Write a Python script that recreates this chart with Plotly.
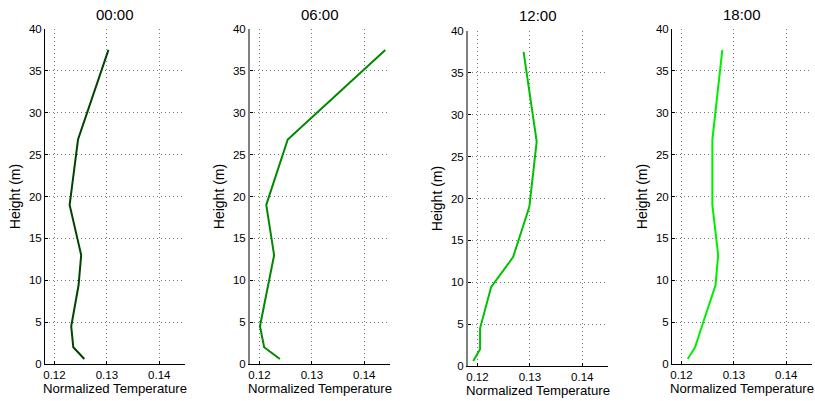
import plotly.graph_objects as go

heights = [0.6, 2.0, 4.5, 9.4, 13.0, 19.0, 26.8, 37.5]
titles = ["00:00", "06:00", "12:00", "18:00"]
temp_00 = [0.1257, 0.1236, 0.1232, 0.1246, 0.1251, 0.1229, 0.1245, 0.1303]
temp_06 = [0.1239, 0.1209, 0.1201, 0.1216, 0.1228, 0.1213, 0.1254, 0.1440]
temp_12 = [0.1192, 0.1205, 0.1205, 0.1226, 0.1268, 0.1299, 0.1313, 0.1288]
temp_18 = [0.1212, 0.1226, 0.1239, 0.1265, 0.1270, 0.1259, 0.1259, 0.1278]
series = [temp_00, temp_06, temp_12, temp_18]
colors = ["#004400", "#008800", "#00c000", "#00ee00"]
x_ticks = [0.12, 0.13, 0.14]
y_ticks = [0, 5, 10, 15, 20, 25, 30, 35, 40]

W, H = 815, 401
xdom_px = [(45, 185), (250, 390), (468, 608), (672, 812)]
ydom_px = [(29, 364), (29, 364), (31, 366), (29, 364)]
left_spine = [("black", 1), ("#808080", 2), ("#808080", 2), ("black", 1)]

fig = go.Figure()
layout = dict(
    width=W, height=H, margin=dict(l=0, r=0, t=0, b=0, autoexpand=False),
    plot_bgcolor="white", paper_bgcolor="white",
    font=dict(family="Liberation Sans, Arial, sans-serif", size=11, color="black"),
    showlegend=False,
)
annotations = []
for i in range(4):
    n = "" if i == 0 else str(i + 1)
    fig.add_trace(go.Scatter(
        x=series[i], y=heights, mode="lines",
        line=dict(color=colors[i], width=2),
        xaxis="x" + n, yaxis="y" + n,
    ))
    x0, x1 = xdom_px[i]
    y0, y1 = ydom_px[i]
    layout["xaxis" + n] = dict(
        domain=[x0 / W, x1 / W], range=[0.1182, 0.1449], anchor="y" + n,
        tickvals=x_ticks, ticktext=[f"{v:.2f}" for v in x_ticks],
        ticks="inside", ticklen=3, tickcolor="black",
        showline=True, linecolor="black", linewidth=1, mirror=False,
        showgrid=True, gridcolor="#777777", griddash="1px,3px", gridwidth=1,
        zeroline=False, automargin=False,
        title=dict(text="Normalized Temperature", font=dict(size=13.2), standoff=1),
        tickfont=dict(size=11.5),
    )
    layout["yaxis" + n] = dict(
        domain=[1 - y1 / H, 1 - y0 / H], range=[0, 40], anchor="x" + n,
        tickvals=y_ticks, ticks="inside", ticklen=3, tickcolor="black",
        showline=True, linecolor=left_spine[i][0], linewidth=left_spine[i][1],
        showgrid=True, gridcolor="#777777", griddash="1px,3px", gridwidth=1,
        zeroline=False, automargin=False,
        title=dict(text="Height (m)", font=dict(size=14), standoff=5),
        tickfont=dict(size=11.5),
    )
    annotations.append(dict(
        text=titles[i], x=(x0 + x1) / 2 / W, y=1 - (y0 - 15) / H,
        xref="paper", yref="paper", showarrow=False,
        font=dict(size=15), xanchor="center", yanchor="middle",
    ))
layout["annotations"] = annotations
fig.update_layout(**layout)
fig.write_html("out.html", config={"displayModeBar": False},
               post_script="document.body.style.margin='0';")
